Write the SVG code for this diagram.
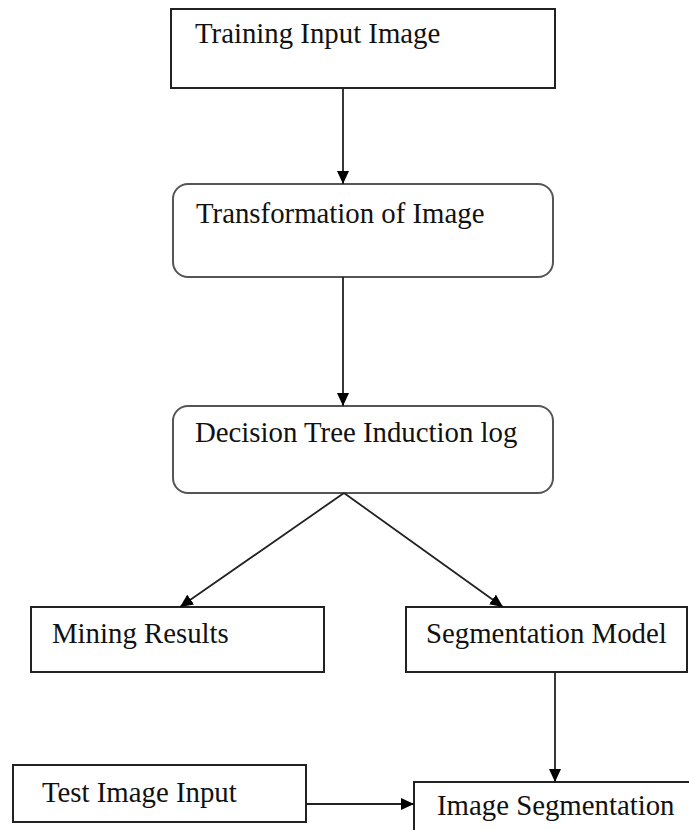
<svg xmlns="http://www.w3.org/2000/svg" width="689" height="830" viewBox="0 0 689 830">
<style>
.box{fill:#fff;stroke:#222;stroke-width:2}
.rbox{fill:#fff;stroke:#555;stroke-width:2}
.lbl{font-family:"Liberation Serif","Times New Roman",serif;font-size:28.8px;fill:#111}
.con{fill:none;stroke:#222;stroke-width:1.8}
</style>
<defs>
<marker id="ah" markerUnits="userSpaceOnUse" markerWidth="13" markerHeight="12" refX="13" refY="6" orient="auto">
<path d="M0,0 L13,6 L0,12 z" fill="#000"/>
</marker>
</defs>
<rect width="689" height="830" fill="#fff"/>
<g id="n1"><rect class="box" x="171" y="9" width="384" height="79"/><text class="lbl" x="195" y="43">Training Input Image</text></g>
<g id="n2"><rect class="rbox" x="173" y="184" width="380" height="93" rx="15"/><text class="lbl" x="196" y="223">Transformation of Image</text></g>
<g id="n3"><rect class="rbox" x="173" y="406" width="380" height="87" rx="15"/><text class="lbl" x="195" y="442">Decision Tree Induction log</text></g>
<g id="n4"><rect class="box" x="31" y="607" width="293" height="65"/><text class="lbl" x="52" y="643">Mining Results</text></g>
<g id="n5"><rect class="box" x="406" y="607" width="281" height="65"/><text class="lbl" x="426" y="643">Segmentation Model</text></g>
<g id="n6"><rect class="box" x="13" y="765" width="293" height="57"/><text class="lbl" x="42" y="802">Test Image Input</text></g>
<g id="n7"><rect class="box" x="414" y="782" width="300" height="100"/><text class="lbl" x="437" y="815">Image Segmentation</text></g>
<g id="connectors">
<line class="con" x1="343" y1="88" x2="343" y2="184" marker-end="url(#ah)"/>
<line class="con" x1="343" y1="277" x2="343" y2="406" marker-end="url(#ah)"/>
<line class="con" x1="344" y1="493" x2="180" y2="607" marker-end="url(#ah)"/>
<line class="con" x1="344" y1="493" x2="503" y2="607" marker-end="url(#ah)"/>
<line class="con" x1="555" y1="672" x2="555" y2="782" marker-end="url(#ah)"/>
<line class="con" x1="306" y1="804" x2="414" y2="804" marker-end="url(#ah)"/>
</g>
</svg>
